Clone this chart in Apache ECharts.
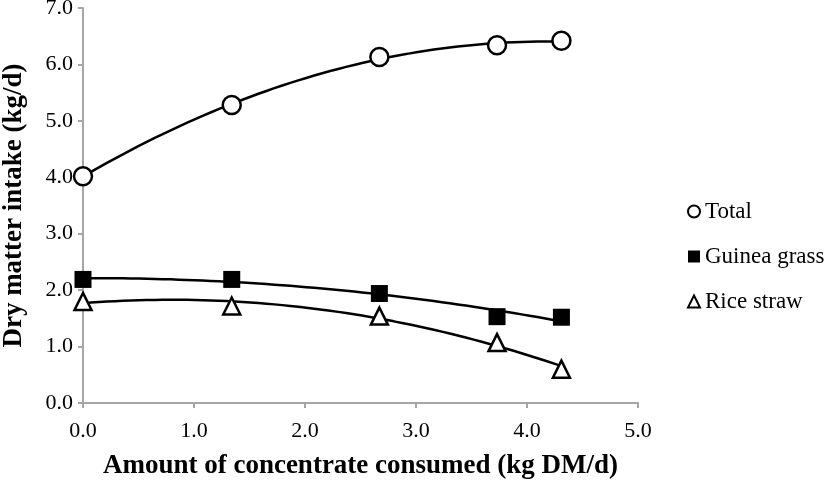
<!DOCTYPE html>
<html>
<head>
<meta charset="utf-8">
<script src="https://cdn.jsdelivr.net/npm/echarts@6/dist/echarts.min.js"></script>
<style>html,body{margin:0;padding:0;background:#fff;}#c{width:827px;height:485px;}</style>
</head>
<body>
<div id="c"></div>
<script>
// Data
var concentrate = [0, 1.34, 2.67, 3.73, 4.31];
var totalIntake = [4.02, 5.28, 6.13, 6.34, 6.42];
var guineaIntake = [2.19, 2.19, 1.94, 1.53, 1.52];
var riceIntake = [1.80, 1.72, 1.54, 1.07, 0.60];
var seriesNames = ['Total', 'Guinea grass', 'Rice straw'];
var xTicks = [0, 1, 2, 3, 4, 5];
var yTicks = [0, 1, 2, 3, 4, 5, 6, 7];

// quadratic least-squares trendline computed from the data
function quadFit(xs, ys) {
  var n = xs.length, s = [0,0,0,0,0], t = [0,0,0];
  for (var i = 0; i < n; i++) {
    var p = 1;
    for (var k = 0; k < 5; k++) { s[k] += p; if (k < 3) t[k] += p * ys[i]; p *= xs[i]; }
  }
  var A = [[s[0],s[1],s[2],t[0]],[s[1],s[2],s[3],t[1]],[s[2],s[3],s[4],t[2]]];
  for (var c = 0; c < 3; c++) {
    for (var r = c + 1; r < 3; r++) {
      var f = A[r][c] / A[c][c];
      for (var j = c; j < 4; j++) A[r][j] -= f * A[c][j];
    }
  }
  var b = [0,0,0];
  for (var r2 = 2; r2 >= 0; r2--) {
    var v = A[r2][3];
    for (var j2 = r2 + 1; j2 < 3; j2++) v -= A[r2][j2] * b[j2];
    b[r2] = v / A[r2][r2];
  }
  var out = [], x0 = xs[0], x1 = xs[n - 1], steps = 60;
  for (var q = 0; q <= steps; q++) {
    var x = x0 + (x1 - x0) * q / steps;
    out.push([x, b[0] + b[1] * x + b[2] * x * x]);
  }
  return out;
}
function pairs(xs, ys) { return xs.map(function (x, i) { return [x, ys[i]]; }); }

var serif = 'Liberation Serif';
var chart = echarts.init(document.getElementById('c'), null, {renderer: 'canvas'});
var lineStyle = {color: '#000', width: 2.5, opacity: 1};
function trend(ys) {
  return {type: 'line', data: quadFit(concentrate, ys), showSymbol: false, symbol: 'none',
    lineStyle: lineStyle, silent: true, z: 2, animation: false};
}
chart.setOption({
  animation: false,
  grid: {left: 83, right: 189, top: 8, bottom: 82, containLabel: false, outerBoundsMode: 'none'},
  legend: {
    orient: 'vertical', left: 687, top: 200, padding: 0, itemGap: 22, itemWidth: 12, itemHeight: 12,
    data: seriesNames,
    textStyle: {fontFamily: serif, fontSize: 23, color: '#000'}
  },
  xAxis: {
    type: 'value', min: 0, max: 5, interval: 1,
    name: 'Amount of concentrate consumed (kg DM/d)', nameLocation: 'middle', nameGap: 50,
    nameTextStyle: {fontFamily: serif, fontSize: 27, fontWeight: 'bold', color: '#000'},
    axisLine: {show: true, lineStyle: {color: '#a6a6a6', width: 2}},
    axisTick: {show: true, length: 5, lineStyle: {color: '#a6a6a6', width: 2}},
    splitLine: {show: false},
    axisLabel: {fontFamily: serif, fontSize: 22, color: '#000', margin: 17,
      formatter: function (v) { return v.toFixed(1); }}
  },
  yAxis: {
    type: 'value', min: 0, max: 7, interval: 1,
    name: 'Dry matter intake (kg/d)', nameLocation: 'middle', nameGap: 55,
    nameTextStyle: {fontFamily: serif, fontSize: 27, fontWeight: 'bold', color: '#000'},
    axisLine: {show: true, lineStyle: {color: '#a6a6a6', width: 2}},
    axisTick: {show: true, length: 5, lineStyle: {color: '#a6a6a6', width: 2}},
    splitLine: {show: false},
    axisLabel: {fontFamily: serif, fontSize: 22, color: '#000', margin: 10,
      formatter: function (v) { return v.toFixed(1); }}
  },
  series: [
    trend(totalIntake), trend(guineaIntake), trend(riceIntake),
    {name: seriesNames[0], type: 'scatter', data: pairs(concentrate, totalIntake), symbol: 'circle', symbolSize: 18,
      itemStyle: {color: '#fff', borderColor: '#000', borderWidth: 2.5, opacity: 1}, z: 5},
    {name: seriesNames[1], type: 'scatter', data: pairs(concentrate, guineaIntake), symbol: 'rect', symbolSize: 17,
      itemStyle: {color: '#000', borderColor: '#000', borderWidth: 0, opacity: 1}, z: 5},
    {name: seriesNames[2], type: 'scatter', data: pairs(concentrate, riceIntake), symbol: 'triangle', symbolSize: 17,
      itemStyle: {color: '#fff', borderColor: '#000', borderWidth: 2.5, opacity: 1}, z: 5}
  ]
});
</script>
</body>
</html>
